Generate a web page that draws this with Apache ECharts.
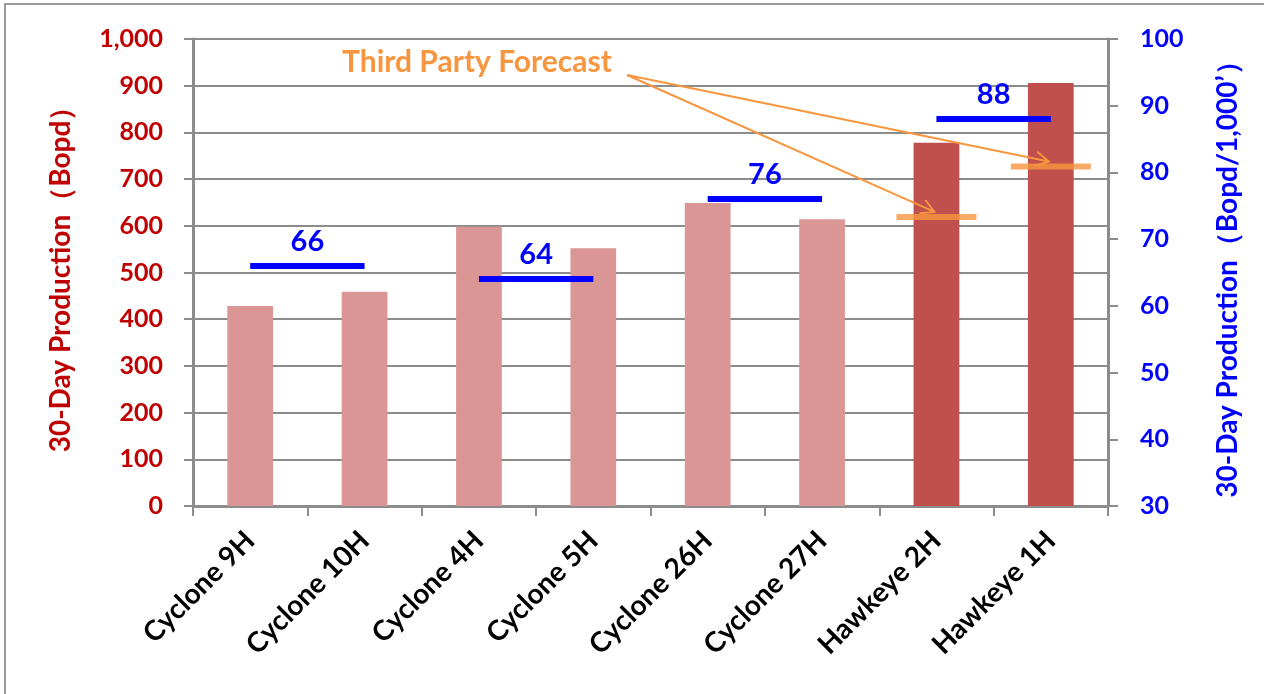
<!DOCTYPE html>
<html>
<head>
<meta charset="utf-8">
<script src="https://cdn.jsdelivr.net/npm/echarts@6/dist/echarts.min.js"></script>
<style>
  html, body { margin: 0; padding: 0; background: #fff; }
  #chart { width: 1264px; height: 694px; }
</style>
</head>
<body>
<div id="chart"></div>
<script>
// Well names along the horizontal axis
const categories = ['Cyclone 9H', 'Cyclone 10H', 'Cyclone 4H', 'Cyclone 5H',
                    'Cyclone 26H', 'Cyclone 27H', 'Hawkeye 2H', 'Hawkeye 1H'];
// 30-day production, Bopd (left axis)
const production = [428, 459, 598, 552, 649, 614, 778, 906];
// Third-party forecast, Bopd (left axis); only the Hawkeye wells have one
const forecast = ['-', '-', '-', '-', '-', '-', 619, 727];
// Pad pairs and their 30-day production per 1,000 ft lateral (right axis)
const padPairs = [['Cyclone 9H', 'Cyclone 10H'], ['Cyclone 4H', 'Cyclone 5H'],
                  ['Cyclone 26H', 'Cyclone 27H'], ['Hawkeye 2H', 'Hawkeye 1H']];
const padValues = [66, 64, 76, 88];
// Axis tick settings
const leftTicks = { min: 0, max: 1000, interval: 100 };
const rightTicks = { min: 30, max: 100, interval: 10 };

const FONT = 'Lato, "Noto Sans", sans-serif';
const RED = '#C00000';
const BLUE = '#0000FF';
const ORANGE = '#F7963F';
const GRID = '#8C8C8C';

const chart = echarts.init(document.getElementById('chart'), null, { renderer: 'canvas' });

const barData = production.map((v, i) => ({
  value: v,
  itemStyle: { color: categories[i].startsWith('Hawkeye') ? '#C0504D' : '#D99694' }
}));

const padLines = padPairs.map((p, i) => [
  { coord: [p[0], padValues[i]], value: padValues[i] },
  { coord: [p[1], padValues[i]] }
]);

const option = {
  animation: false,
  backgroundColor: '#fff',
  grid: { left: 193, right: 156, top: 39, bottom: 188, containLabel: false },
  xAxis: {
    type: 'category',
    data: categories,
    axisLine: { lineStyle: { color: GRID, width: 3 } },
    axisTick: { show: true, length: 10, lineStyle: { color: GRID, width: 2 } },
    axisLabel: {
      rotate: 45, margin: 30, color: '#000', fontFamily: FONT,
      fontWeight: 'bold', fontSize: 28, interval: 0
    }
  },
  yAxis: [
    {
      type: 'value', position: 'left',
      min: leftTicks.min, max: leftTicks.max, interval: leftTicks.interval,
      name: '30-Day Production（Bopd）',
      nameLocation: 'middle', nameGap: 118, nameRotate: 90,
      nameTextStyle: { color: RED, fontFamily: FONT, fontWeight: 'bold', fontSize: 28 },
      axisLine: { show: true, lineStyle: { color: GRID, width: 3 } },
      axisTick: { show: true, length: 9, lineStyle: { color: GRID, width: 2 } },
      splitLine: { show: true, lineStyle: { color: GRID, width: 2 } },
      axisLabel: {
        margin: 30, color: RED, fontFamily: FONT, fontWeight: 'bold', fontSize: 25,
        formatter: v => v.toLocaleString('en-US')
      }
    },
    {
      type: 'value', position: 'right',
      min: rightTicks.min, max: rightTicks.max, interval: rightTicks.interval,
      name: '30-Day Production（Bopd/1,000’）',
      nameLocation: 'middle', nameGap: 106, nameRotate: 90,
      nameTextStyle: { color: BLUE, fontFamily: FONT, fontWeight: 'bold', fontSize: 28 },
      axisLine: { show: true, lineStyle: { color: GRID, width: 3 } },
      axisTick: { show: true, length: 10, lineStyle: { color: GRID, width: 2 } },
      splitLine: { show: false },
      axisLabel: {
        margin: 32, color: BLUE, fontFamily: FONT, fontWeight: 'bold', fontSize: 25
      }
    }
  ],
  series: [
    {
      name: 'Production', type: 'bar', yAxisIndex: 0,
      data: barData, barWidth: '40%'
    },
    {
      name: 'Third Party Forecast', type: 'scatter', yAxisIndex: 0,
      data: forecast, symbol: 'rect', symbolSize: [80, 6],
      itemStyle: { color: ORANGE }, z: 5
    },
    {
      name: 'Pad average', type: 'line', yAxisIndex: 1, data: [],
      markLine: {
        silent: true, symbol: 'none',
        lineStyle: { color: BLUE, width: 6, type: 'solid' },
        label: {
          show: true, position: 'middle', distance: 10, formatter: '{c}',
          color: BLUE, fontFamily: FONT, fontWeight: 'bold', fontSize: 29
        },
        data: padLines
      },
      z: 6
    }
  ]
};

chart.setOption(option);

// Callout text and arrows pointing at the forecast marks
const calloutStart = [627, 75];
const arrowEls = [];
forecast.forEach((v, i) => {
  if (v === '-') return;
  const p = chart.convertToPixel({ seriesIndex: 1 }, [categories[i], v]);
  const tip = [p[0] - 2, p[1] - 5];
  const ang = Math.atan2(tip[1] - calloutStart[1], tip[0] - calloutStart[0]);
  const L = 15, spread = 0.5;
  const a1 = [tip[0] - L * Math.cos(ang - spread), tip[1] - L * Math.sin(ang - spread)];
  const a2 = [tip[0] - L * Math.cos(ang + spread), tip[1] - L * Math.sin(ang + spread)];
  arrowEls.push({
    type: 'line', z: 20,
    shape: { x1: calloutStart[0], y1: calloutStart[1], x2: tip[0], y2: tip[1] },
    style: { stroke: ORANGE, lineWidth: 2 }
  });
  arrowEls.push({
    type: 'polyline', z: 20,
    shape: { points: [a1, tip, a2] },
    style: { stroke: ORANGE, lineWidth: 2, fill: null }
  });
});

chart.setOption({
  graphic: [
    {
      type: 'rect', z: -1, silent: true,
      shape: { x: 5, y: 4, width: 1300, height: 720 },
      style: { stroke: '#999', lineWidth: 2, fill: null }
    },
    {
      type: 'text', z: 20, left: 342, top: 47,
      style: {
        text: 'Third Party Forecast', fill: ORANGE,
        font: 'bold 30px ' + FONT
      }
    }
  ].concat(arrowEls)
});
</script>
</body>
</html>
